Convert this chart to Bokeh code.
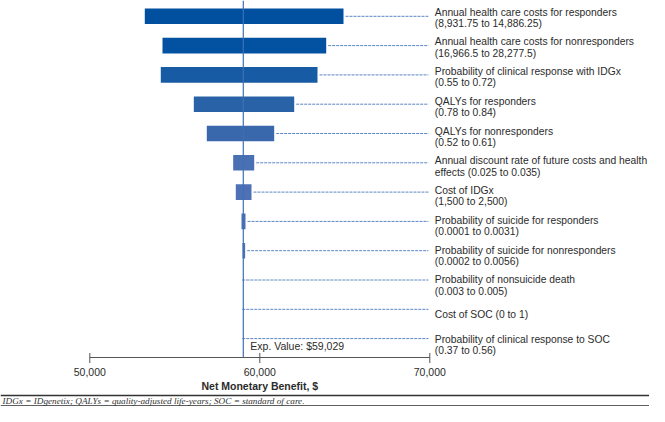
from bokeh.plotting import figure
from bokeh.models import Range1d, ColumnDataSource
from bokeh.core.properties import value
from bokeh.embed import file_html
from bokeh.resources import INLINE

# ---------------- data ----------------
params = [
    "Annual health care costs for responders",
    "Annual health care costs for nonresponders",
    "Probability of clinical response with IDGx",
    "QALYs for responders",
    "QALYs for nonresponders",
    "Annual discount rate of future costs and health",
    "Cost of IDGx",
    "Probability of suicide for responders",
    "Probability of suicide for nonresponders",
    "Probability of nonsuicide death",
    "Cost of SOC (0 to 1)",
    "Probability of clinical response to SOC",
]
ranges = [
    "(8,931.75 to 14,886.25)",
    "(16,966.5 to 28,277.5)",
    "(0.55 to 0.72)",
    "(0.78 to 0.84)",
    "(0.52 to 0.61)",
    "effects (0.025 to 0.035)",
    "(1,500 to 2,500)",
    "(0.0001 to 0.0031)",
    "(0.0002 to 0.0056)",
    "(0.003 to 0.005)",
    "",
    "(0.37 to 0.56)",
]
low = [53235, 54276, 54176, 56118, 56882, 58435, 58588, 58924, 58982, 59029, 59029, 59029]
high = [64924, 63906, 63394, 62024, 60847, 59671, 59512, 59159, 59138, 59029, 59029, 59029]
exp_value = 59029
ticks = [50000, 60000, 70000]
axis_title = "Net Monetary Benefit, $"
exp_label = "Exp. Value: $59,029"
footnote = "IDGx = IDgenetix; QALYs = quality-adjusted life-years; SOC = standard of care."

# ---------------- styles / layout ----------------
bar_colors = ["#00509f", "#0352a1", "#175ba4", "#2a62a8", "#3968ad",
              "#4a70b4", "#4e70b4", "#4d6fb6", "#5072b8", "#5072b8", "#5072b8", "#5072b8"]
W, H = 649, 406
px_per_dollar = 170.0 / 10000.0
x_left = 50000 - 89.3 / px_per_dollar
x_right = x_left + W / px_per_dollar

row0, row_step, half_h = 15.8, 29.3, 7.8
yc = [row0 + row_step * i for i in range(len(params))]
txt0, txt_step, txt_lead = 11.7, 29.75, 11.2
t1 = [txt0 + txt_step * i for i in range(len(params))]
axis_y = 357.0

FONT = value("Liberation Sans")
TXT = "#2b2b2b"
FS = "10.3px"

p = figure(width=W, height=H, x_range=Range1d(x_left, x_right), y_range=Range1d(H, 0),
           output_backend="svg", toolbar_location=None, min_border=0,
           x_axis_type=None, y_axis_type=None, outline_line_color=None,
           background_fill_color="white", border_fill_color="white")
p.xgrid.visible = False
p.ygrid.visible = False

# bars
src = ColumnDataSource(dict(
    left=low, right=high,
    top=[y - half_h for y in yc], bottom=[y + half_h for y in yc],
    color=bar_colors))
p.quad(left="left", right="right", top="top", bottom="bottom", source=src,
       fill_color="color", line_color=None)

# dashed leader lines
gap = 2.0 / px_per_dollar
dash_x0 = [h + gap if h > exp_value else exp_value - 1.0 / px_per_dollar for h in high]
p.segment(x0=dash_x0, y0=yc, x1=[69920] * len(yc), y1=yc,
          line_color="#5a86c2", line_width=1, line_dash="3 1")

# expected value line
p.segment(x0=[exp_value], y0=[0], x1=[exp_value], y1=[axis_y],
          line_color="#3f70b3", line_width=1.2)

# labels
lab_x = [70000] * len(params)
line1_y = [y if r else y + 5.0 for y, r in zip(t1, ranges)]
line2_y = [y + txt_lead for y in t1]
p.text(x=lab_x, y=line1_y, text=params, x_offset=5, text_font=FONT,
       text_font_size=FS, text_color=TXT, text_baseline="alphabetic", text_align="left")
p.text(x=lab_x, y=line2_y, text=ranges, x_offset=5, text_font=FONT,
       text_font_size=FS, text_color=TXT, text_baseline="alphabetic", text_align="left")

# exp value label
p.text(x=[exp_value], y=[345.5], text=[exp_label], x_offset=7, text_font=FONT,
       text_font_size="10.5px", text_color=TXT, text_baseline="middle", text_align="left")

# axis (drawn through the x scale)
p.segment(x0=[ticks[0]], y0=[axis_y], x1=[ticks[-1]], y1=[axis_y],
          line_color="#555555", line_width=1)
p.segment(x0=ticks, y0=[axis_y - 4.5] * len(ticks), x1=ticks, y1=[axis_y + 5.5] * len(ticks),
          line_color="#555555", line_width=1)
p.text(x=ticks, y=[371.5] * len(ticks), text=[f"{t:,}" for t in ticks], text_font=FONT,
       text_font_size="10.5px", text_color=TXT, text_baseline="middle", text_align="center")
p.text(x=[(ticks[0] + ticks[-1]) / 2], y=[385], text=[axis_title], text_font=FONT,
       text_font_size="10.5px", text_font_style="bold", text_color=TXT,
       text_baseline="middle", text_align="center")

# footer
p.segment(x0=[x_left], y0=[395], x1=[x_right], y1=[395], line_color="#333333", line_width=1.6)
p.text(x=[x_left], y=[400.5], text=[footnote], x_offset=2, text_font=value("Liberation Serif"),
       text_font_size="9.2px", text_font_style="italic", text_color="#333333",
       text_baseline="middle", text_align="left")
p.quad(left=[x_left], right=[x_right], top=[404.8], bottom=[406], fill_color="#2a2a2a", line_color=None)

open("out.html", "w").write(file_html(p, INLINE))
